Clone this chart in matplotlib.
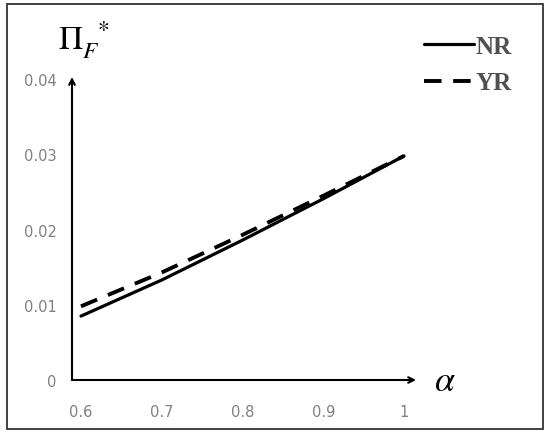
import matplotlib
matplotlib.use("Agg")
import matplotlib.pyplot as plt
from matplotlib.patches import Rectangle

alpha = [0.6, 0.7, 0.8, 0.9, 1.0]
nr = [0.0085, 0.0133, 0.0186, 0.0241, 0.0298]
yr = [0.0098, 0.0143, 0.0193, 0.0245, 0.0298]
xticks = [0.6, 0.7, 0.8, 0.9, 1.0]
xlabels = ["0.6", "0.7", "0.8", "0.9", "1"]
yticks = [0, 0.01, 0.02, 0.03, 0.04]
ylabels = ["0", "0.01", "0.02", "0.03", "0.04"]

plt.rcParams["mathtext.fontset"] = "stix"
fig = plt.figure(figsize=(5.5, 4.35), dpi=100)
ax = fig.add_axes([72/550, 1 - 381/435, 340/550, 303/435])

ax.plot(alpha, nr, "k-", lw=2.3, label="NR", solid_capstyle="round")
ax.plot(alpha, yr, "k--", lw=2.8, label="YR", dashes=(4.5, 3))

ax.set_xlim(0.6 - 9/807.5, 1 + 8/807.5)
ax.set_ylim(0, 0.0403)
ax.set_xticks(xticks, xlabels)
ax.set_yticks(yticks, ylabels)
ax.tick_params(length=0, labelsize=10.5, labelcolor="#808080")
ax.tick_params(axis="x", pad=17)
ax.tick_params(axis="y", pad=11)
for s in ax.spines.values():
    s.set_visible(False)

# axes drawn as arrows
ax.annotate("", xy=(1.012, 0), xycoords="axes fraction", xytext=(0, 0),
            arrowprops=dict(arrowstyle="->", lw=1.5, color="black", shrinkA=0, shrinkB=0))
ax.annotate("", xy=(0, 1.0), xycoords="axes fraction", xytext=(0, 0),
            arrowprops=dict(arrowstyle="->", lw=1.5, color="black", shrinkA=0, shrinkB=0))

fig.text(445/550, 1 - 381/435, r"$\alpha$", fontsize=26, va="center", ha="center")
fig.text(58/550, 1 - 40/435, r"$\Pi_{F}^{\ \ *}$", fontsize=24, va="center", ha="left")

fig.legend(loc="upper right", bbox_to_anchor=(534/550, 1 - 13/435), frameon=False,
           handlelength=2.0, handletextpad=0.05, labelspacing=0.55,
           prop=dict(family="Liberation Serif", weight="bold", size=18),
           labelcolor="#505050")

fig.patches.append(Rectangle((7/550, 5/435), 536/550, 425/435, transform=fig.transFigure,
                             fill=False, edgecolor="#333333", lw=1.3))

fig.savefig("out.png", dpi=100)
